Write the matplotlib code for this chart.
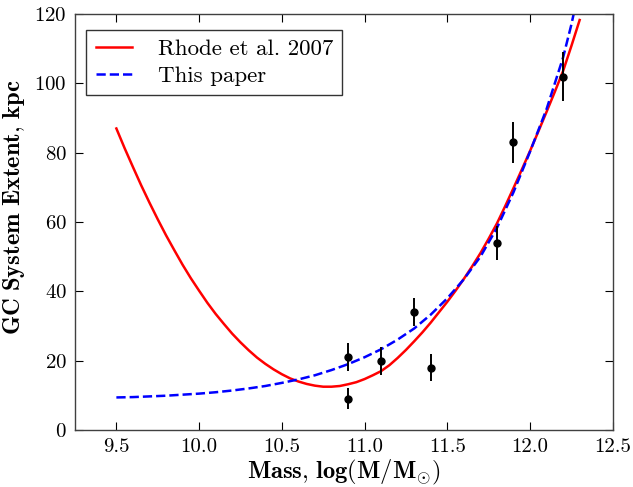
import numpy as np
import matplotlib
matplotlib.use("Agg")
import matplotlib.pyplot as plt

# Rhode et al. 2007 curve
RHODE_X = [9.5, 9.55, 9.6, 9.65, 9.7, 9.75, 9.8, 9.85, 9.9, 9.95,
           10.0, 10.05, 10.1, 10.15, 10.2, 10.25, 10.3, 10.35, 10.4, 10.45,
           10.5, 10.55, 10.6, 10.65, 10.7, 10.75, 10.8, 10.85, 10.9, 10.95,
           11.0, 11.05, 11.1, 11.15, 11.2, 11.25, 11.3, 11.35, 11.4, 11.45,
           11.5, 11.55, 11.6, 11.65, 11.7, 11.75, 11.8, 11.85, 11.9, 11.95,
           12.0, 12.05, 12.1, 12.15, 12.2, 12.25, 12.3]
RHODE_Y = [87.0, 81.3, 75.9, 70.6, 65.6, 60.8, 56.2, 51.9, 47.7, 43.8,
           40.2, 36.7, 33.5, 30.6, 27.8, 25.3, 23.0, 20.9, 19.1, 17.5,
           16.1, 14.9, 14.0, 13.3, 12.8, 12.5, 12.5, 12.7, 13.2, 13.8,
           14.7, 15.8, 17.0, 18.7, 20.8, 23.1, 25.6, 28.2, 31.0, 34.0,
           37.0, 40.2, 43.6, 47.2, 51.0, 55.2, 59.6, 64.6, 69.8, 75.1,
           80.5, 86.1, 91.8, 97.6, 103.6, 110.8, 118.3]

# This paper curve
PAPER_X = [9.5, 9.6, 9.7, 9.8, 9.9, 10.0, 10.1, 10.2, 10.3, 10.4, 10.5, 10.6, 10.7,
           10.8, 10.9, 11.0, 11.1, 11.2, 11.3, 11.4, 11.5, 11.6, 11.7, 11.8, 11.9,
           12.0, 12.1, 12.2, 12.25, 12.3]
PAPER_Y = [9.4, 9.5, 9.7, 9.9, 10.2, 10.5, 10.9, 11.4, 12.0, 12.7, 13.6, 14.6, 15.8,
           17.3, 19.0, 21.0, 23.3, 26.1, 29.3, 33.3, 38.0, 43.5, 50.0, 58.3, 68.6,
           80.3, 92.6, 107.5, 117.0, 128.0]

# Galaxies with error bars
GAL_X = [10.9, 10.9, 11.1, 11.3, 11.4, 11.8, 11.9, 12.2]
GAL_Y = [21, 9, 20, 34, 18, 54, 83, 102]
GAL_ERR = [4, 3, 4, 4, 4, 5, 6, 7]

plt.rcParams["font.family"] = "cmr10"
plt.rcParams["mathtext.fontset"] = "cm"
plt.rcParams["axes.formatter.use_mathtext"] = True

fig = plt.figure(figsize=(6.33, 4.87), dpi=100)
ax = fig.add_axes([0.1185, 0.117, 0.8495, 0.854])

ax.plot(RHODE_X, RHODE_Y, color="red", linewidth=1.8, label="Rhode et al. 2007")
ax.plot(PAPER_X, PAPER_Y, color="blue", linewidth=1.8, linestyle="--", label="This paper")
ax.errorbar(GAL_X, GAL_Y, yerr=GAL_ERR, fmt="o", color="black", markersize=5,
            elinewidth=1.4, capsize=0)

ax.set_xlim(9.25, 12.5)
ax.set_ylim(0, 120)
ax.set_xticks(np.arange(9.5, 12.51, 0.5))
ax.set_yticks(np.arange(0, 121, 20))
ax.xaxis.set_major_formatter(matplotlib.ticker.FormatStrFormatter("%.1f"))
ax.tick_params(direction="in", top=True, right=True, length=6, width=0.8,
               labelsize=15, pad=6)
for s in ax.spines.values():
    s.set_color("#404040")
    s.set_linewidth(1.0)

ax.set_xlabel(r"$\mathbf{Mass{,}\ log(M/M_{\odot})}$", fontsize=17.7, labelpad=1)
ax.set_ylabel(r"$\mathbf{GC\ System\ Extent{,}\ kpc}$", fontsize=17.7, labelpad=5)
ax.yaxis.label.set_y(0.535)

leg = ax.legend(loc="upper left", fontsize=16.5, fancybox=False, handlelength=1.6,
                borderpad=0.4, labelspacing=0.3, handletextpad=1.1,
                bbox_to_anchor=(0.0, 0.99))
leg.get_frame().set_edgecolor("black")
leg.get_frame().set_linewidth(1.0)

fig.savefig("out.png", dpi=100)
